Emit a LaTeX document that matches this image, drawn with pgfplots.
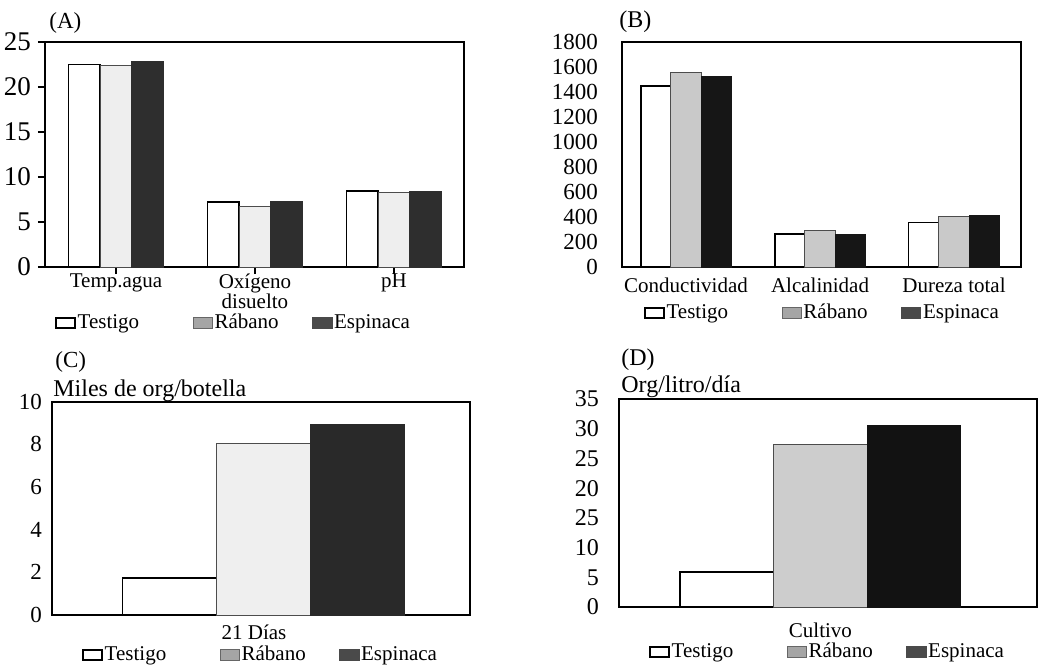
\documentclass[border=0pt]{standalone}
\usepackage{fontspec}
\setmainfont{Liberation Serif}
\usepackage{pgfplots}
\pgfplotsset{compat=1.18}
\definecolor{rabA}{HTML}{EEEEEE}
\definecolor{espA}{HTML}{2E2E2E}
\definecolor{rabB}{HTML}{C9C9C9}
\definecolor{espB}{HTML}{161616}
\definecolor{rabC}{HTML}{EFEFEF}
\definecolor{espC}{HTML}{292929}
\definecolor{rabD}{HTML}{CDCDCD}
\definecolor{espD}{HTML}{121212}
\definecolor{legR}{HTML}{A5A5A5}
\definecolor{legE}{HTML}{4A4A4A}
\pgfplotsset{
  swatch/.style={legend image code/.code={\draw[#1] (0pt,-2.6pt) rectangle (9.5pt,2.6pt);}},
  panel/.style={
    scale only axis, anchor=south west,
    axis line style={line width=0.9pt},
    xtick pos=bottom, ytick pos=left,
    ymin=0,
    tick style={line width=0.8pt, black},
    /pgf/number format/assume math mode=true,
    /pgf/number format/1000 sep={},
    legend columns=3,
    legend cell align=left,
    legend style={draw=none, fill=none, inner sep=0pt, outer sep=0pt, anchor=west,
      font=\fontsize{10.5}{12}\selectfont, nodes={inner sep=0.8pt},
      /tikz/column 2/.style={column sep=26pt},
      /tikz/column 4/.style={column sep=16pt}},
  },
  testigo/.style={ybar, draw=black, line width=0.9pt, fill=white, forget plot},
}
\newcommand{\legendset}{%
  \addlegendimage{swatch={fill=white,draw=black,line width=1pt}}\addlegendentry{Testigo}
  \addlegendimage{swatch={fill=legR,draw=black!60,line width=0.6pt}}\addlegendentry{Rábano}
  \addlegendimage{swatch={fill=legE,draw=legE,line width=0.6pt}}\addlegendentry{Espinaca}
}
\begin{document}
\begin{tikzpicture}
\path[use as bounding box] (0pt,0pt) rectangle (519.5pt,-333pt);

% ---------- (A)
\begin{axis}[panel,
  at={(22.5pt,-133.5pt)}, width=209.5pt, height=112.5pt,
  xmin=-0.511, xmax=2.504, ymax=25,
  ytick={0,5,10,15,20,25},
  xtick={0,1,2},
  xticklabels={Temp.agua,{Oxígeno\\[-0.5pt]disuelto},pH},
  tick align=outside, major tick length=3.5pt,
  xticklabel style={align=center, font=\fontsize{10.5}{9.5}\selectfont, yshift=3.5pt},
  yticklabel style={font=\fontsize{13.5}{14}\selectfont},
  legend style={at={(0.024,-0.249)}},
  bar width=0.228,
]
\addplot[testigo, bar shift=-0.228] coordinates {(0,22.5) (1,7.26) (2,8.44)};
\addplot[ybar, bar shift=0, fill=rabA, draw=black!70, line width=0.5pt, forget plot] coordinates {(0,22.4) (1,6.67) (2,8.3)};
\addplot[ybar, bar shift=0.228, fill=espA, draw=espA, line width=0.5pt, forget plot] coordinates {(0,22.78) (1,7.26) (2,8.37)};
\legendset
\end{axis}

% ---------- (B)
\begin{axis}[panel,
  at={(311pt,-133.5pt)}, width=199.5pt, height=112.5pt,
  xmin=-0.478, xmax=2.5, ymax=1800,
  ytick={0,200,...,1800},
  xtick={0,1,2},
  xticklabels={Conductividad,Alcalinidad,Dureza total},
  major tick length=0pt,
  xticklabel style={font=\fontsize{10.5}{12}\selectfont, yshift=-2pt},
  yticklabel style={font=\fontsize{11.5}{12}\selectfont, xshift=-8.5pt},
  legend style={at={(0.055,-0.204)}},
  bar width=0.226,
]
\addplot[testigo, bar shift=-0.226] coordinates {(0,1446) (1,264) (2,356)};
\addplot[ybar, bar shift=0, fill=rabB, draw=black!70, line width=0.5pt, forget plot] coordinates {(0,1557) (1,295) (2,401)};
\addplot[ybar, bar shift=0.226, fill=espB, draw=espB, line width=0.5pt, forget plot] coordinates {(0,1522) (1,264) (2,409)};
\legendset
\end{axis}

% ---------- (C)
\begin{axis}[panel,
  at={(26pt,-307.5pt)}, width=209pt, height=106.7pt,
  xmin=-0.506, xmax=0.494, ymax=10,
  ytick={0,2,4,6,8,10},
  xtick={0},
  xticklabels={21 Días},
  major tick length=0pt,
  xticklabel style={font=\fontsize{10.5}{12}\selectfont, xshift=-4.75pt, yshift=-1.5pt},
  yticklabel style={font=\fontsize{11.5}{12}\selectfont, xshift=-1.5pt},
  legend style={at={(0.072,-0.1875)}},
  bar width=0.225,
]
\addplot[testigo, bar shift=-0.225] coordinates {(0,1.72)};
\addplot[ybar, bar shift=0, fill=rabC, draw=black!70, line width=0.5pt, forget plot] coordinates {(0,8.02)};
\addplot[ybar, bar shift=0.225, fill=espC, draw=espC, line width=0.5pt, forget plot] coordinates {(0,8.94)};
\legendset
\end{axis}

% ---------- (D)
\begin{axis}[panel,
  at={(309.5pt,-303.5pt)}, width=209pt, height=104pt,
  xmin=-0.482, xmax=0.518, ymax=35,
  ytick={0,5,10,15,20,25,30,35},
  yticklabels={0,5,10,25,20,25,30,35},
  xtick={0},
  xticklabels={Cultivo},
  major tick length=0pt,
  xticklabel style={font=\fontsize{10.5}{12}\selectfont, yshift=-4.5pt},
  yticklabel style={font=\fontsize{12}{12}\selectfont, xshift=-6.5pt},
  legend style={at={(0.072,-0.216)}},
  bar width=0.224,
]
\addplot[testigo, bar shift=-0.224] coordinates {(0,5.9)};
\addplot[ybar, bar shift=0, fill=rabD, draw=black!70, line width=0.5pt, forget plot] coordinates {(0,27.3)};
\addplot[ybar, bar shift=0.224, fill=espD, draw=espD, line width=0.5pt, forget plot] coordinates {(0,30.6)};
\legendset
\end{axis}

\begin{scope}[every node/.style={inner sep=0pt}]
\node[anchor=base west, font=\fontsize{11.5}{12}\selectfont] at (24.5pt,-14pt) {(A)};
\node[anchor=base west, font=\fontsize{12}{12}\selectfont] at (309.5pt,-13.5pt) {(B)};
\node[anchor=base west, font=\fontsize{11.5}{12}\selectfont] at (27.5pt,-183.5pt) {(C)};
\node[anchor=base west, font=\fontsize{12}{12}\selectfont] at (26.5pt,-198pt) {Miles de org/botella};
\node[anchor=base west, font=\fontsize{12}{12}\selectfont] at (310.5pt,-182.5pt) {(D)};
\node[anchor=base west, font=\fontsize{12}{12}\selectfont] at (310.5pt,-196pt) {Org/litro/día};
\end{scope}
\end{tikzpicture}
\end{document}
